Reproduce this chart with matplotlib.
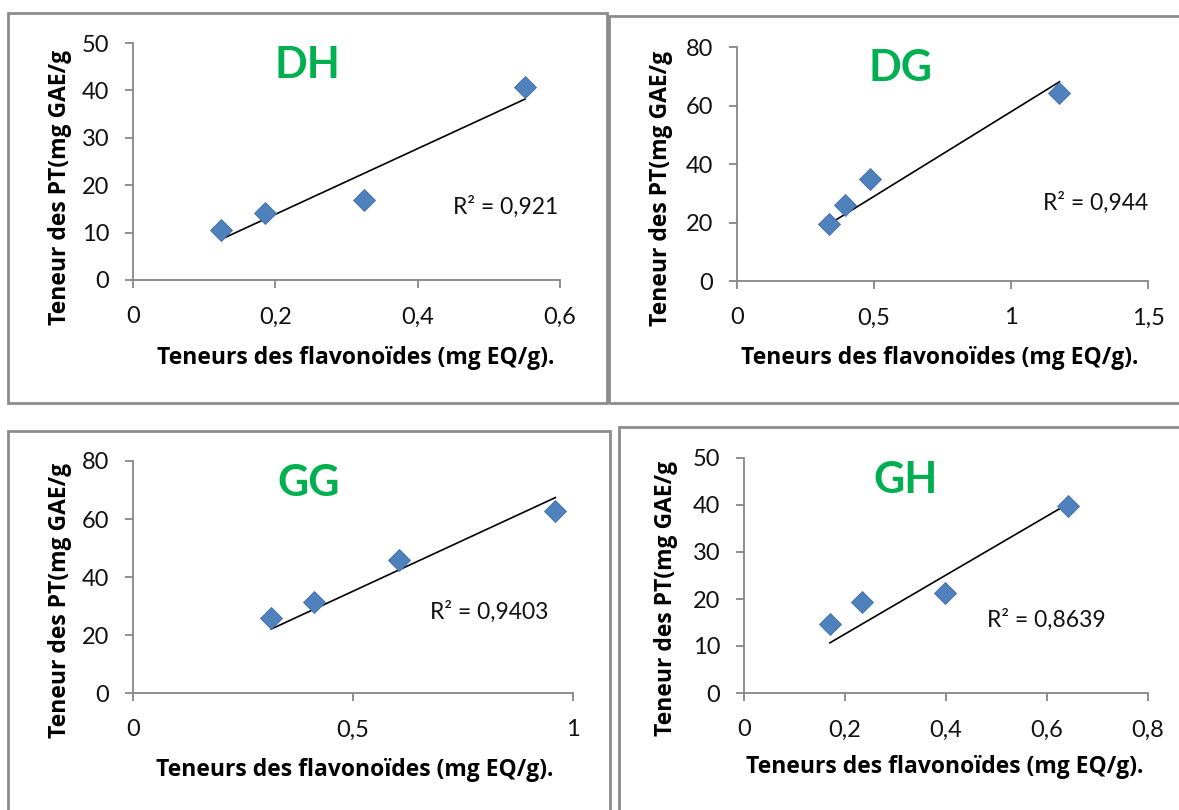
import numpy as np
import matplotlib
matplotlib.use("Agg")
import matplotlib.pyplot as plt
from matplotlib.patches import Rectangle
from matplotlib.ticker import FuncFormatter, MultipleLocator

W, H = 1179, 810

# data
dh_x = [0.123, 0.186, 0.325, 0.551]
dh_y = [10.5, 14.1, 16.8, 40.7]
dg_x = [0.336, 0.393, 0.485, 1.177]
dg_y = [19.6, 26.0, 34.8, 64.2]
gg_x = [0.314, 0.411, 0.604, 0.960]
gg_y = [25.7, 31.5, 46.0, 62.8]
gh_x = [0.170, 0.234, 0.398, 0.642]
gh_y = [14.6, 19.4, 21.3, 39.8]

names = ["DH", "DG", "GG", "GH"]
r2_labels = ["R² = 0,921", "R² = 0,944", "R² = 0,9403", "R² = 0,8639"]
xlims = [(0, 0.6, 0.2), (0, 1.5, 0.5), (0, 1.0, 0.5), (0, 0.8, 0.2)]
ylims = [(0, 50, 10), (0, 80, 20), (0, 80, 20), (0, 50, 10)]

XLABEL = "Teneurs des flavonoïdes (mg EQ/g)."
YLABEL = "Teneur des PT(mg GAE/g"

FONT = "Lato"
LABFONT = "Open Sans"
GREY = "#868686"
BLUE = "#4F81BD"
GREEN = "#00B050"

# layout in pixels: axes (x0, x1, ytop, ybottom), frame (l, t, r, b)
axes_px = [(133, 560, 43, 280), (737, 1148, 47, 281),
           (133, 573, 461, 693), (744, 1148, 458, 693)]
frames = [(8, 13, 607, 403), (609, 16, 1190, 403),
          (8, 431, 610, 820), (619, 427, 1190, 820)]
title_pos = [(307, 65), (900, 68), (309, 483), (906, 480)]
r2_pos = [(453, 207), (1043, 203), (430, 612), (987, 620)]
xlab_pos = [(356, 358), (940, 358), (355, 770), (945, 767)]
ylab_pos = [(60, 187), (661, 188), (60, 600), (666, 598)]


def fx(x):
    return x / W


def fy(y):
    return 1 - y / H


def comma(v, pos):
    return f"{v:g}".replace(".", ",")


fig = plt.figure(figsize=(W / 100, H / 100), dpi=100)
fig.patch.set_facecolor("white")

for l, t, r, b in frames:
    fig.patches.append(Rectangle((fx(l), fy(b)), fx(r - l), (b - t) / H,
                                 transform=fig.transFigure, fill=False,
                                 edgecolor="#8c8c8c", linewidth=2.0))

datasets = [(dh_x, dh_y), (dg_x, dg_y), (gg_x, gg_y), (gh_x, gh_y)]

for i, (xs, ys) in enumerate(datasets):
    x0, x1, yt, yb = axes_px[i]
    ax = fig.add_axes([fx(x0), fy(yb), fx(x1 - x0), (yb - yt) / H])
    xs = np.array(xs)
    ys = np.array(ys)

    # linear trendline forced through the origin
    slope = np.sum(xs * ys) / np.sum(xs * xs)
    xl = np.array([xs.min(), xs.max()])
    ax.plot(xl, slope * xl, color="black", lw=1.2, zorder=2)
    ax.plot(xs, ys, ls="none", marker="D", ms=11, color=BLUE,
            markeredgecolor="#3f6ea6", markeredgewidth=0.6, zorder=3)

    lo, hi, step = xlims[i]
    ax.set_xlim(lo, hi)
    ax.xaxis.set_major_locator(MultipleLocator(step))
    lo, hi, step = ylims[i]
    ax.set_ylim(lo, hi)
    ax.yaxis.set_major_locator(MultipleLocator(step))
    ax.xaxis.set_major_formatter(FuncFormatter(comma))
    ax.yaxis.set_major_formatter(FuncFormatter(comma))

    for s in ["top", "right"]:
        ax.spines[s].set_visible(False)
    for s in ["left", "bottom"]:
        ax.spines[s].set_color(GREY)
        ax.spines[s].set_linewidth(1.3)
    ax.tick_params(axis="both", direction="out", length=6, width=1.3,
                   color=GREY, labelsize=17, labelcolor="#111111")
    ax.tick_params(axis="x", pad=13)
    ax.tick_params(axis="y", pad=11)
    for lab in ax.get_xticklabels() + ax.get_yticklabels():
        lab.set_fontfamily(FONT)
    ax.set_facecolor("none")
    for ln in ax.lines:
        ln.set_clip_on(False)

    tx, ty = title_pos[i]
    fig.text(fx(tx), fy(ty), names[i], color=GREEN, fontsize=31,
             fontweight="bold", family=FONT, ha="center", va="center")
    rx, ry = r2_pos[i]
    fig.text(fx(rx), fy(ry), r2_labels[i], fontsize=16.5, family=FONT,
             color="#111111", ha="left", va="center")
    lx, ly = xlab_pos[i]
    fig.text(fx(lx), fy(ly), XLABEL, fontsize=16.5, fontweight="bold",
             family=LABFONT, ha="center", va="center")
    yx, yy = ylab_pos[i]
    fig.text(fx(yx), fy(yy), YLABEL, fontsize=16.5, fontweight="bold",
             family=LABFONT, ha="center", va="center", rotation=90)

fig.savefig("out.png", dpi=100, facecolor="white")
